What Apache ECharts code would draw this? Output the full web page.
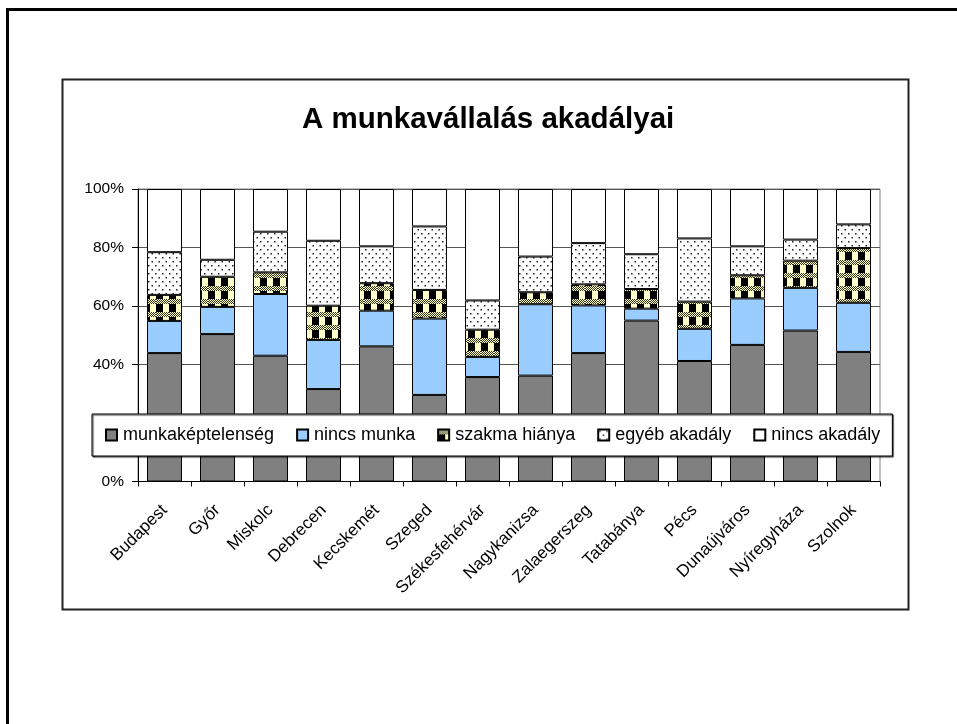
<!DOCTYPE html>
<html>
<head>
<meta charset="utf-8">
<script src="https://cdn.jsdelivr.net/npm/echarts@6/dist/echarts.min.js"></script>
<style>
  html, body { margin: 0; padding: 0; background: #fff; }
  #chart { width: 957px; height: 724px; }
</style>
</head>
<body>
<div id="chart"></div>
<script>
// Cities surveyed
const categories = ['Budapest', 'Győr', 'Miskolc', 'Debrecen', 'Kecskemét', 'Szeged', 'Székesfehérvár',
  'Nagykanizsa', 'Zalaegerszeg', 'Tatabánya', 'Pécs', 'Dunaújváros', 'Nyíregyháza', 'Szolnok'];

// Share of respondents (%) per obstacle, one value per city
const munkakeptelenseg = [43.9, 50.4, 43.0, 31.6, 46.2, 29.6, 35.7, 36.2, 43.9, 55.0, 41.2, 46.7, 51.6, 44.3];
const nincsMunka       = [11.0,  9.3, 21.1, 16.8, 12.2, 26.1,  6.9, 24.4, 16.3,  4.1, 11.0, 15.9, 14.6, 16.8];
const szakmaHianya     = [ 8.9, 10.3,  7.4, 11.7,  9.4,  9.8,  9.3,  4.1,  7.2,  6.7,  9.3,  7.9,  9.3, 18.7];
const egyebAkadaly     = [14.6,  5.8, 13.9, 22.2, 12.6, 21.7, 10.0, 12.2, 14.1, 11.9, 21.6,  9.9,  7.2,  8.1];
const nincsAkadaly     = [21.6, 24.2, 14.6, 17.7, 19.6, 12.8, 38.1, 23.1, 18.5, 22.3, 16.9, 19.6, 17.3, 12.1];

const seriesNames = ['munkaképtelenség', 'nincs munka', 'szakma hiánya', 'egyéb akadály', 'nincs akadály'];
const yTicks = [0, 20, 40, 60, 80, 100];

// Fill patterns
function dotPattern() {
  const c = document.createElement('canvas');
  c.width = 7; c.height = 8;
  const g = c.getContext('2d');
  g.fillStyle = '#ffffff';
  g.fillRect(0, 0, 7, 8);
  g.fillStyle = '#222222';
  g.fillRect(1, 1, 1.5, 1.5);
  g.fillRect(4.5, 5, 1.5, 1.5);
  return c;
}
function weavePattern() {
  const c = document.createElement('canvas');
  c.width = 13; c.height = 13;
  const g = c.getContext('2d');
  g.fillStyle = '#FFFFCC';
  g.fillRect(0, 0, 13, 13);
  g.fillStyle = '#333322';
  for (let y = 0; y < 5; y++) {
    for (let x = 0; x < 13; x++) {
      if ((x + y) % 2 === 0) g.fillRect(x, y, 1, 1);
    }
  }
  g.fillStyle = '#000000';
  g.fillRect(0, 5, 7, 8);
  return c;
}

const fills = [
  '#808080',
  '#99CCFF',
  { image: weavePattern(), repeat: 'repeat' },
  { image: dotPattern(), repeat: 'repeat' },
  '#FFFFFF'
];
const dataSets = [munkakeptelenseg, nincsMunka, szakmaHianya, egyebAkadaly, nincsAkadaly];

const chart = echarts.init(document.getElementById('chart'), null, { renderer: 'canvas' });

const option = {
  backgroundColor: '#ffffff',
  animation: false,
  title: {
    text: 'A munkavállalás akadályai',
    left: 297,
    top: 100,
    textStyle: { fontFamily: 'Liberation Sans, Arial, sans-serif', fontSize: 29.5, fontWeight: 'bold', color: '#000' }
  },
  graphic: [
    {
      type: 'rect', z: 0, silent: true,
      shape: { x: 7.5, y: 9.5, width: 1000, height: 800 },
      style: { fill: 'none', stroke: '#000', lineWidth: 3 }
    },
    {
      type: 'rect', z: 0, silent: true,
      shape: { x: 62.5, y: 79.5, width: 846, height: 530 },
      style: { fill: 'none', stroke: '#222', lineWidth: 2 }
    }
  ],
  legend: {
    data: seriesNames,
    left: 92,
    top: 414,
    orient: 'horizontal',
    icon: 'rect',
    itemWidth: 11,
    itemHeight: 11,
    itemGap: 22,
    padding: [12, 12, 12, 13],
    backgroundColor: '#ffffff',
    borderColor: '#000',
    borderWidth: 1,
    shadowColor: 'rgba(0,0,0,0.8)',
    shadowOffsetX: 1,
    shadowOffsetY: 1,
    shadowBlur: 1,
    textStyle: { fontFamily: 'Liberation Sans, Arial, sans-serif', fontSize: 18, color: '#000', padding: [0, 0, 0, 1] }
  },
  grid: {
    left: 138,
    right: 77,
    top: 189,
    bottom: 242.5,
    show: true,
    borderColor: '#808080',
    borderWidth: 1,
    backgroundColor: '#ffffff'
  },
  xAxis: {
    type: 'category',
    data: categories,
    axisLine: { lineStyle: { color: '#000', width: 1 } },
    axisTick: { show: true, length: 5, lineStyle: { color: '#000' } },
    axisLabel: {
      rotate: 45,
      margin: 26,
      interval: 0,
      fontFamily: 'Liberation Sans, Arial, sans-serif',
      fontSize: 17,
      color: '#000'
    }
  },
  yAxis: {
    type: 'value',
    min: yTicks[0],
    max: yTicks[yTicks.length - 1],
    interval: 20,
    axisLine: { show: true, lineStyle: { color: '#000', width: 1 } },
    axisTick: { show: true, length: 6, lineStyle: { color: '#000' } },
    splitLine: { show: true, lineStyle: { color: '#555', width: 1 } },
    axisLabel: {
      formatter: '{value}%',
      margin: 14,
      fontFamily: 'Liberation Sans, Arial, sans-serif',
      fontSize: 15.5,
      color: '#000'
    }
  },
  series: seriesNames.map((name, i) => ({
    name: name,
    type: 'bar',
    stack: 'total',
    barWidth: '66%',
    data: dataSets[i],
    itemStyle: { color: fills[i], borderColor: '#000', borderWidth: 1 }
  }))
};

chart.setOption(option);
</script>
</body>
</html>
